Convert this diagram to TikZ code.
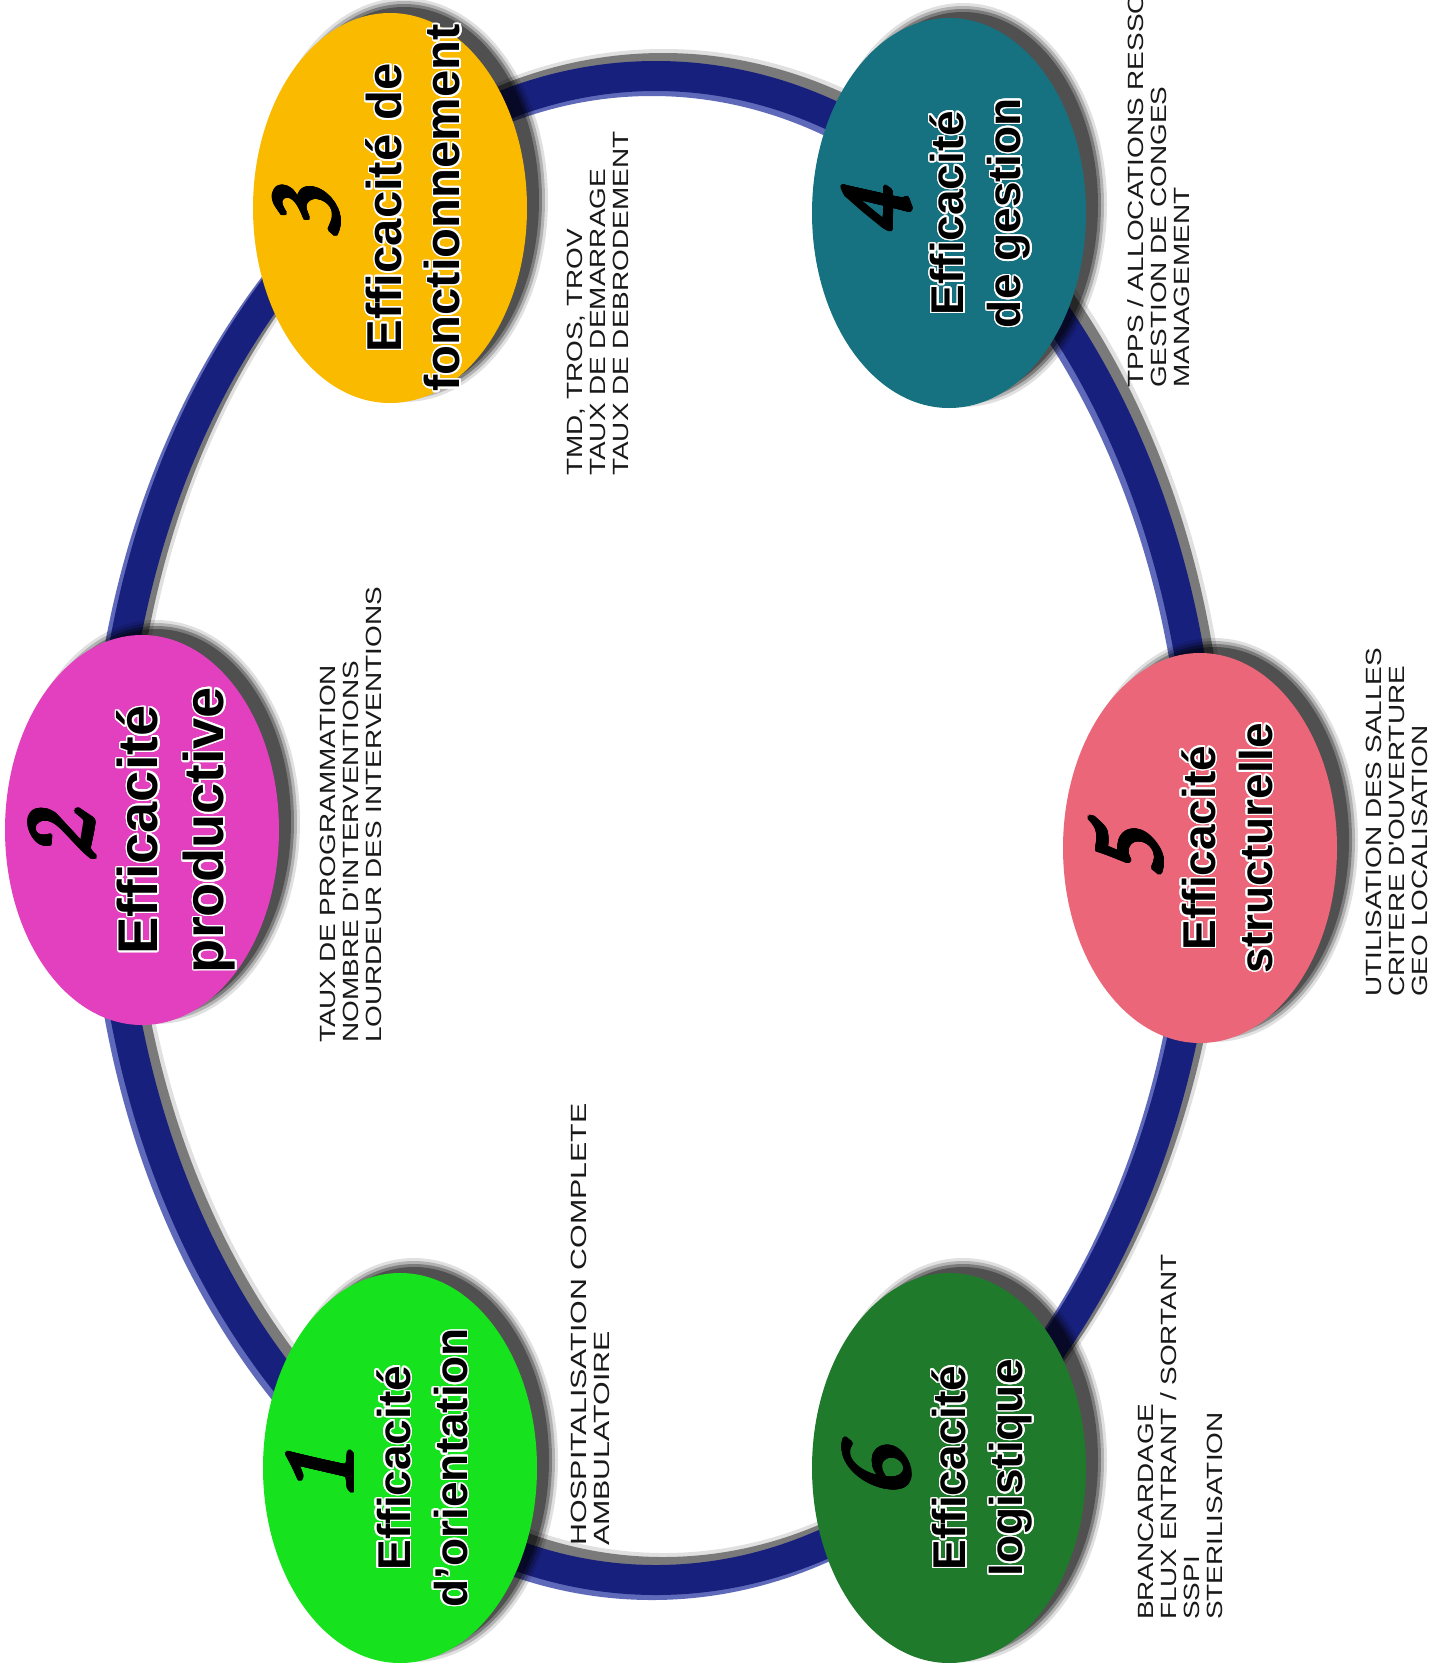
\documentclass[tikz,border=0pt]{standalone}
\usepackage{fontspec}
\setmainfont{Liberation Sans}
\newfontfamily\lblfont[FakeStretch=1.27]{Liberation Sans}
\newfontfamily\lblfontwide[FakeStretch=1.38]{Liberation Sans}
\newfontfamily\ttlfont{Liberation Sans}
\usepackage{contour}
\contournumber{24}
\usetikzlibrary{shapes.geometric}
\definecolor{navy}{RGB}{24,32,125}
\definecolor{navylight}{RGB}{95,105,185}
\definecolor{c1}{RGB}{22,226,30}
\definecolor{c2}{RGB}{226,64,190}
\definecolor{c3}{RGB}{250,186,0}
\definecolor{c4}{RGB}{22,114,128}
\definecolor{c5}{RGB}{236,102,122}
\definecolor{c6}{RGB}{32,122,44}
\definecolor{lbltext}{RGB}{25,25,25}
\newcommand\mynumfont{\fontencoding{OT1}\fontfamily{pzc}\fontseries{mb}\fontshape{it}\fontsize{112}{112}\selectfont}
\newcommand\ttlline[1]{\contourlength{1.6pt}\contour{white}{#1}}
\newcommand\numglyph[1]{\contourlength{2pt}\contour{black}{#1}}
\tikzset{
  bubble/.style={ellipse, minimum width=274pt, minimum height=390pt, inner sep=0pt, fill=#1},
  numtxt/.style={rotate=90, font=\mynumfont, inner sep=0pt},
  ttl/.style={rotate=90, align=center, font=\ttlfont\bfseries\fontsize{46}{57}\selectfont, inner sep=0pt},
  lbl/.style={rotate=90, anchor=north west, align=left, text=lbltext, font=\lblfont\fontsize{22}{23}\selectfont, inner sep=0pt},
  ringline/.style={line width=30pt, navy},
}
\begin{document}
\begin{tikzpicture}[x=1pt,y=-1pt]
\useasboundingbox (0,0) rectangle (1438,1663);
\clip (0,0) rectangle (1438,1663);
\fill[white] (0,0) rectangle (1438,1663);
% ring
\coordinate (rc) at (656,828);
\draw[line width=38pt, black, opacity=0.12] ([shift={(8,-8)}]rc) ellipse [x radius=548pt, y radius=752pt];
\draw[line width=32pt, black, opacity=0.45] ([shift={(7,-7)}]rc) ellipse [x radius=548pt, y radius=752pt];
\draw[line width=32pt, navylight] ([shift={(-4,4)}]rc) ellipse [x radius=548pt, y radius=752pt];
\draw[ringline] (rc) ellipse [x radius=548pt, y radius=752pt];
% bubble centres
\coordinate (p1) at (400,1468);
\coordinate (p2) at (142,830);
\coordinate (p3) at (390,208);
\coordinate (p4) at (949,213);
\coordinate (p5) at (1200,848);
\coordinate (p6) at (949,1468);
% shadows
\foreach \c in {1,...,6}{
  \foreach \g/\o in {7/0.12, 4/0.2, 1/0.3, -2/0.35}{
    \fill[black, opacity=\o] ([shift={(14,-8)}]p\c) ellipse [x radius={137+\g}, y radius={195+\g}];
  }
}
% bubbles
\node[bubble=c1] (e1) at (p1) {};
\node[bubble=c2] (e2) at (p2) {};
\node[bubble=c3] (e3) at (p3) {};
\node[bubble=c4] (e4) at (p4) {};
\node[bubble=c5] (e5) at (p5) {};
\node[bubble=c6] (e6) at (p6) {};
% numbers
\node[numtxt] (n1) at ([shift={(-81,8)}]p1) {\numglyph{1}};
\node[numtxt] (n2) at ([shift={(-81,8)}]p2) {\numglyph{2}};
\node[numtxt] (n3) at ([shift={(-84,6)}]p3) {\numglyph{3}};
\node[numtxt] (n4) at ([shift={(-73,0)}]p4) {\numglyph{4}};
\node[numtxt] (n5) at ([shift={(-75,8)}]p5) {\numglyph{5}};
\node[numtxt] (n6) at ([shift={(-73,6)}]p6) {\numglyph{6}};
% titles
\node[ttl] (t1) at ([shift={(23,0)}]p1) {\ttlline{Efficacité}\\\ttlline{d’orientation}};
\node[ttl, font=\ttlfont\bfseries\fontsize{56}{66}\selectfont] (t2) at ([shift={(35,0)}]p2) {\ttlline{Efficacité}\\\ttlline{productive}};
\node[ttl, font=\ttlfont\bfseries\fontsize{49}{58}\selectfont] (t3) at ([shift={(24,0)}]p3) {\ttlline{Efficacité de}\\\ttlline{fonctionnement}};
\node[ttl] (t4) at ([shift={(32,0)}]p4) {\ttlline{Efficacité}\\\ttlline{de gestion}};
\node[ttl] (t5) at ([shift={(28,0)}]p5) {\ttlline{Efficacité}\\\ttlline{structurelle}};
\node[ttl] (t6) at ([shift={(34,0)}]p6) {\ttlline{Efficacité}\\\ttlline{logistique}};
% labels
\node[lbl, font=\lblfontwide\fontsize{22}{23}\selectfont] (l1) at (571,1546) {HOSPITALISATION COMPLETE\\AMBULATOIRE};
\node[lbl] (l2) at (320,1043) {TAUX DE PROGRAMMATION\\NOMBRE D'INTERVENTIONS\\LOURDEUR DES INTERVENTIONS};
\node[lbl] (l3) at (567,476) {TMD, TROS, TROV\\TAUX DE DEMARRAGE\\TAUX DE DEBRODEMENT};
\node[lbl] (l4) at (1127,388) {TPPS / ALLOCATIONS RESSOURCES\\GESTION DE CONGES\\MANAGEMENT};
\node[lbl] (l5) at (1366,997) {UTILISATION DES SALLES\\CRITERE D'OUVERTURE\\GEO LOCALISATION};
\node[lbl] (l6) at (1138,1620) {BRANCARDAGE\\FLUX ENTRANT / SORTANT\\SSPI\\STERILISATION};
\end{tikzpicture}
\end{document}
